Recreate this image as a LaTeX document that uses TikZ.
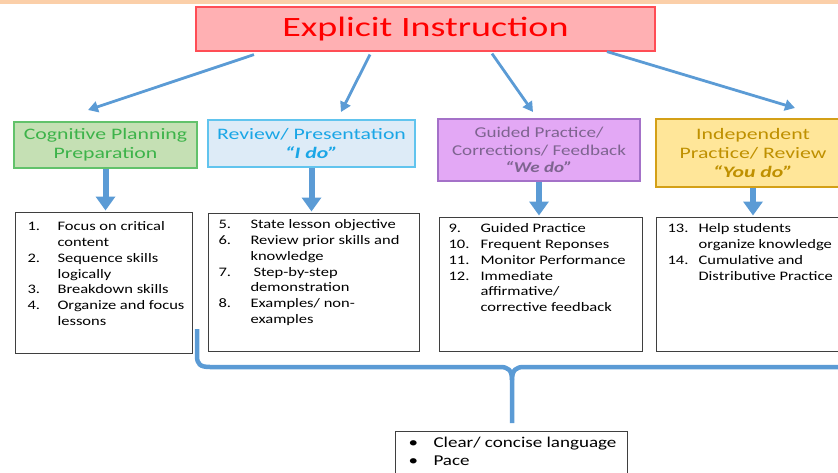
\documentclass[tikz,border=0pt]{standalone}
\usepackage{fontspec}
\setmainfont{Carlito}[FakeStretch=1.27]
\newfontfamily\widefont{Carlito}[FakeStretch=1.36]
\usetikzlibrary{arrows.meta,positioning,calc}

\begin{document}
\begin{tikzpicture}[x=1pt, y=-1pt,
    header/.style={draw, line width=1.2pt, inner sep=0pt, align=center, font=\widefont\fontsize{16}{19}\selectfont},
    listbox/.style={draw=listBorder, line width=1.1pt, fill=white, anchor=north west, inner sep=0pt, font=\fontsize{13}{15.8}\selectfont},
    toparrow/.style={-{Triangle[width=11pt,length=10pt]}, line width=2.8pt, arrowBlue},
    downarrow/.style={-{Triangle[width=19pt,length=14pt]}, line width=6pt, arrowBlue, shorten >=1.5pt},
    brace/.style={line width=4.5pt, arrowBlue, line join=round}]
    % Color Palette
    \definecolor{bandPeach}{HTML}{FBCFA9}
    \definecolor{titleFill}{HTML}{FFB0B3}
    \definecolor{titleBorder}{HTML}{FF4D55}
    \definecolor{titleText}{HTML}{FF0000}
    \definecolor{cogFill}{HTML}{C5E0B4}
    \definecolor{cogBorder}{HTML}{62C26B}
    \definecolor{cogText}{HTML}{3DB34A}
    \definecolor{revFill}{HTML}{DDEBF7}
    \definecolor{revBorder}{HTML}{61C4EE}
    \definecolor{revText}{HTML}{1AA6E6}
    \definecolor{guiFill}{HTML}{E3A8F5}
    \definecolor{guiBorder}{HTML}{A471C8}
    \definecolor{guiText}{HTML}{7E6490}
    \definecolor{indFill}{HTML}{FFE699}
    \definecolor{indBorder}{HTML}{D4A017}
    \definecolor{indText}{HTML}{BF9000}
    \definecolor{arrowBlue}{HTML}{5B9BD5}
    \definecolor{listBorder}{HTML}{3F3F3F}

    \clip (0,0) rectangle (838,472);
    \fill[bandPeach] (0,0) rectangle (838,3.5);

    % --- Title (Top) ---
    \node[draw=titleBorder, fill=titleFill, text=titleText, line width=1.2pt, minimum width=459pt, minimum height=44pt, font=\widefont\fontsize{28}{32}\selectfont] (title) at (425.5,29) {\raisebox{-1.5pt}{Explicit Instruction}};

    % --- Phase headers ---
    \node[header, draw=cogBorder, fill=cogFill, text=cogText, minimum width=183pt, minimum height=46pt] (cog) at (105.5,145) {Cognitive Planning\\Preparation};
    \node[header, draw=revBorder, fill=revFill, text=revText, minimum width=207pt, minimum height=47pt] (rev) at (311.5,143.5) {Review/ Presentation\\\textbf{\textit{“I do”}}};
    \node[header, draw=guiBorder, fill=guiFill, text=guiText, minimum width=202pt, minimum height=62pt, font=\normalfont\fontsize{15}{17.5}\selectfont] (gui) at (539,150) {Guided Practice/\\Corrections/ Feedback\\\textbf{\textit{“We do”}}};
    \node[header, draw=indBorder, fill=indFill, text=indText, minimum width=194pt, minimum height=68pt] (ind) at (753,153) {Independent\\Practice/ Review\\\textbf{\textit{“You do”}}};

    % Arrows from title to headers
    \coordinate (t1) at (88,110);
    \coordinate (t2) at (341,112);
    \coordinate (t3) at (533,112);
    \coordinate (t4) at (795,108);
    \draw[toparrow] ([xshift=-171.5pt,yshift=-3pt]title.south) -- (t1);
    \draw[toparrow] ([xshift=-55.5pt,yshift=-3pt]title.south) -- (t2);
    \draw[toparrow] ([xshift=66.5pt,yshift=-2pt]title.south) -- (t3);
    \draw[toparrow] ([xshift=181.5pt,yshift=0pt]title.south) -- (t4);

    % --- Step lists ---
    \node[listbox] (list1) at (15,212) {\begin{minipage}[t][141pt][t]{177pt}
        \vspace*{7pt}\hspace*{12pt}%
        \begin{tabular}[t]{@{}p{30pt}@{}l@{}}
        1. & Focus on critical\\ & content\\
        2. & Sequence skills\\ & logically\\
        3. & Breakdown skills\\
        4. & Organize and focus\\ & lessons
        \end{tabular}
    \end{minipage}};
    \node[listbox] (list2) at (208,213) {\begin{minipage}[t][138pt][t]{211pt}
        \vspace*{4pt}\hspace*{10pt}%
        \begin{tabular}[t]{@{}p{32pt}@{}l@{}}
        5. & State lesson objective\\
        6. & Review prior skills and\\ & knowledge\\
        7. & \hspace{3pt}Step-by-step\\ & demonstration\\
        8. & Examples/ non-\\ & examples
        \end{tabular}
    \end{minipage}};
    \node[listbox] (list3) at (439,217) {\begin{minipage}[t][134pt][t]{203pt}
        \vspace*{4pt}\hspace*{9pt}%
        \begin{tabular}[t]{@{}p{32pt}@{}l@{}}
        9. & Guided Practice\\
        10. & Frequent Reponses\\
        11. & Monitor Performance\\
        12. & Immediate\\ & affirmative/\\ & corrective feedback
        \end{tabular}
    \end{minipage}};
    \node[listbox] (list4) at (656,217) {\begin{minipage}[t][134pt][t]{194pt}
        \vspace*{4pt}\hspace*{11pt}%
        \begin{tabular}[t]{@{}p{31pt}@{}l@{}}
        13. & Help students\\ & organize knowledge\\
        14. & Cumulative and\\ & Distributive Practice
        \end{tabular}
    \end{minipage}};

    % Arrows from headers to lists
    \draw[downarrow] (cog.south) -- (cog.south |- list1.north);
    \draw[downarrow] (rev.south) -- (rev.south |- list2.north);
    \draw[downarrow] (gui.south) -- (gui.south |- list3.north);
    \draw[downarrow] (ind.south) -- (ind.south |- list4.north);

    % --- Brace and delivery notes (Bottom) ---
    \draw[brace] (197,329) -- (197,356) .. controls (197,364) and (200,367) .. (210,367) -- (500,367)
        .. controls (508,367) and (512,370) .. (512,380) -- (512,423);
    \draw[brace] (512,380) .. controls (512,370) and (516,367) .. (524,367) -- (845,367);

    \node[listbox, font=\fontsize{15}{18}\selectfont] (notes) at (395,431) {\begin{minipage}[t][60pt][t]{232pt}
        \vspace*{3pt}\hspace*{13pt}%
        \begin{tabular}[t]{@{}p{25pt}@{}l@{}}
        \textbullet & Clear/ concise language\\
        \textbullet & Pace
        \end{tabular}
    \end{minipage}};

\end{tikzpicture}
\end{document}
